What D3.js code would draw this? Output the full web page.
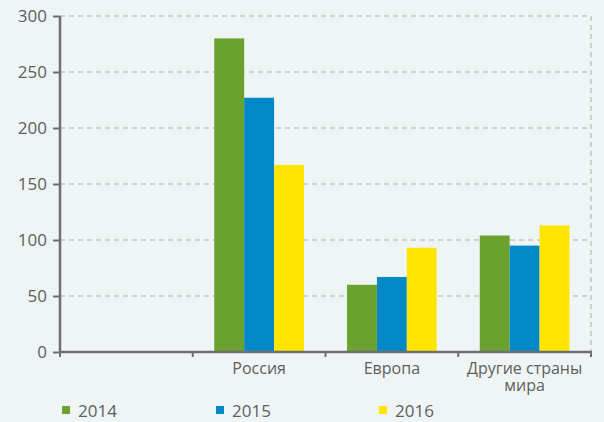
<!DOCTYPE html>
<html>
<head>
<meta charset="utf-8">
<script src="https://cdn.jsdelivr.net/npm/d3@7"></script>
<style>
body { margin: 0; background: #eff5f4; }
svg { display: block; font-family: "Open Sans", "Noto Sans", sans-serif; }
</style>
</head>
<body>
<svg id="chart" width="604" height="422"></svg>
<script>
var categories = ['', 'Россия', 'Европа', 'Другие страны|мира'];
var years = ['2014', '2015', '2016'];
var values2014 = [null, 280, 60, 104];
var values2015 = [null, 227, 67, 95];
var values2016 = [null, 167, 93, 113];
var yTicks = [0, 50, 100, 150, 200, 250, 300];
var colors = ['#6aa12f', '#0088c7', '#ffe500'];

var series = [values2014, values2015, values2016];

var plotL = 60, plotR = 591, plotT = 16, plotB = 352;

var svg = d3.select('#chart');

var x = d3.scaleBand().domain(categories).range([plotL, plotR]);
var xInner = d3.scaleBand().domain(years).range([0, x.bandwidth()]).paddingOuter(0.72);
var y = d3.scaleLinear().domain([0, 300]).range([plotB, plotT]);

// grid
var gGrid = svg.append('g').attr('class', 'grid');
gGrid.selectAll('line')
    .data(yTicks.filter(function(d) { return d > 0; }))
    .enter().append('line')
    .attr('x1', plotL).attr('x2', plotR)
    .attr('y1', function(d) { return y(d); })
    .attr('y2', function(d) { return y(d); })
    .attr('stroke', '#a9adad').attr('stroke-width', 1).attr('stroke-dasharray', '5,4');
gGrid.append('line')
    .attr('x1', plotR).attr('x2', plotR).attr('y1', plotT).attr('y2', plotB)
    .attr('stroke', '#a9adad').attr('stroke-width', 1).attr('stroke-dasharray', '5,4');

// bars
var gBars = svg.append('g').attr('class', 'bars');
categories.forEach(function(c, i) {
    years.forEach(function(yr, j) {
        var v = series[j][i];
        if (v == null) return;
        gBars.append('rect')
            .attr('x', x(c) + xInner(yr))
            .attr('y', y(v))
            .attr('width', xInner.bandwidth())
            .attr('height', plotB - y(v))
            .attr('fill', colors[j]);
    });
});

// y axis
var yAxis = d3.axisLeft(y).tickValues(yTicks).tickSize(7).tickPadding(6);
var gY = svg.append('g').attr('transform', 'translate(' + plotL + ',0)').call(yAxis);
gY.select('.domain').attr('stroke', '#6d6f70').attr('stroke-width', 2.5)
    .attr('d', 'M0,' + plotT + 'V' + (plotB + 1));
gY.selectAll('.tick line').attr('stroke', '#6d6f70').attr('stroke-width', 2);
gY.selectAll('.tick text').attr('fill', '#5d5f60').style('font-size', '17px')
    .style('font-family', '"Open Sans", "Noto Sans", sans-serif');

// x axis
var gX = svg.append('g').attr('transform', 'translate(0,' + plotB + ')');
gX.append('line').attr('x1', plotL - 1).attr('x2', plotR + 1).attr('y1', 0).attr('y2', 0)
    .attr('stroke', '#6d6f70').attr('stroke-width', 2.5);
var bounds = categories.map(function(c) { return x(c); }).concat([plotR]);
gX.selectAll('line.tick')
    .data(bounds)
    .enter().append('line')
    .attr('class', 'tick')
    .attr('x1', function(d) { return d; }).attr('x2', function(d) { return d; })
    .attr('y1', 0).attr('y2', 5)
    .attr('stroke', '#6d6f70').attr('stroke-width', 2);
categories.forEach(function(c) {
    var lines = c.split('|');
    var t = gX.append('text')
        .attr('x', x(c) + x.bandwidth() / 2)
        .attr('y', 22)
        .attr('text-anchor', 'middle')
        .attr('fill', '#5d5f60')
        .style('font-size', '16px');
    lines.forEach(function(l, k) {
        t.append('tspan').attr('x', x(c) + x.bandwidth() / 2).attr('dy', k === 0 ? 0 : 17).text(l);
    });
});

// legend
var legendX = [62, 216, 379];
var gLegend = svg.append('g').attr('class', 'legend');
years.forEach(function(yr, j) {
    gLegend.append('rect')
        .attr('x', legendX[j]).attr('y', 406)
        .attr('width', 8).attr('height', 8)
        .attr('fill', colors[j]);
    gLegend.append('text')
        .attr('x', legendX[j] + 16).attr('y', 417)
        .attr('fill', '#5d5f60')
        .style('font-size', '17px')
        .text(yr);
});
</script>
</body>
</html>
